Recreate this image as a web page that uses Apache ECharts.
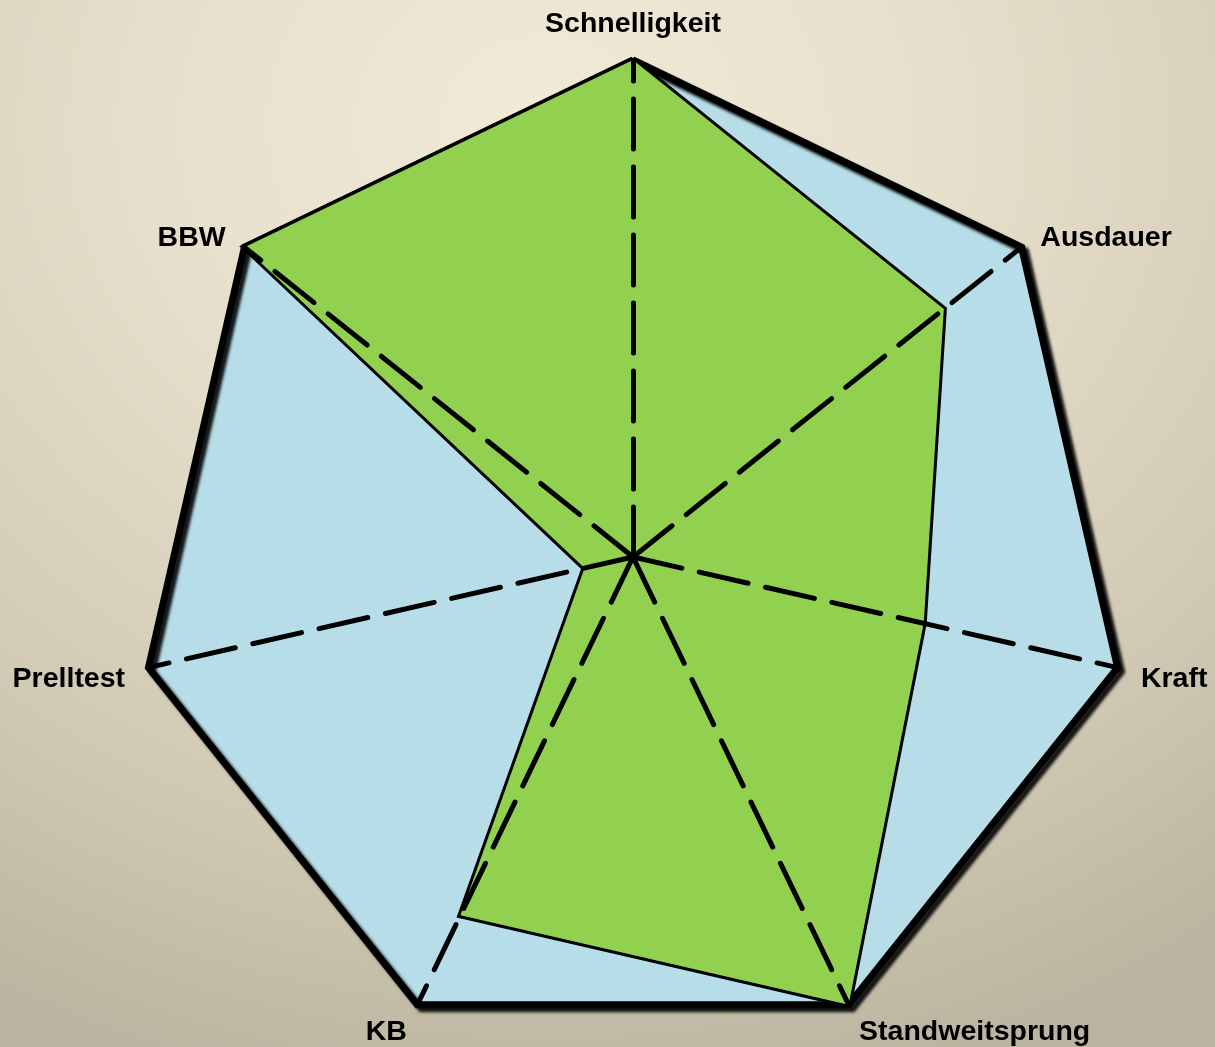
<!DOCTYPE html>
<html>
<head>
<meta charset="utf-8">
<script src="https://cdn.jsdelivr.net/npm/echarts@6/dist/echarts.min.js"></script>
<style>
  html, body { margin: 0; padding: 0; width: 100%; height: 100%; }
  body { background: radial-gradient(ellipse 95% 95% at 45% 12%, #f1ead6 0%, #e6dfcb 35%, #d3cbb6 70%, #bab5a0 100%); }
  #chart { width: 1215px; height: 1047px; }
</style>
</head>
<body>
<div id="chart"></div>
<script>
// Clockwise order starting at the top
const categories = ['Schnelligkeit', 'Ausdauer', 'Kraft', 'Standweitsprung', 'KB', 'Prelltest', 'BBW'];
const maxValues = [10, 10, 10, 10, 10, 10, 10];
const seriesValues = [10, 8, 6, 10, 8, 1, 10];

// ECharts lays radar indicators out counter-clockwise; reorder so they run clockwise
const order = [0].concat(categories.map((_, i) => i).slice(1).reverse());
const indicator = order.map(i => ({ name: categories[i], max: maxValues[i], min: 0 }));
const orderedValues = order.map(i => seriesValues[i]);

const baseRadar = {
  indicator: indicator,
  center: [633, 557],
  radius: 497,
  startAngle: 90,
  shape: 'polygon',
  splitNumber: 1,
  nameGap: 24,
  axisTick: { show: false },
  axisLabel: { show: false }
};

const nameFont = { color: '#000', fontWeight: 'bold', fontSize: 28.5, fontFamily: 'Liberation Sans, Arial, sans-serif' };

const chart = echarts.init(document.getElementById('chart'), null, { renderer: 'canvas' });
chart.setOption({
  backgroundColor: 'transparent',
  animation: false,
  radar: [
    Object.assign({}, baseRadar, {
      z: 0,
      axisName: { show: false },
      axisLine: { show: false },
      splitLine: {
        show: true,
        lineStyle: {
          color: '#000', width: 7, join: 'miter',
          shadowColor: 'rgba(0,0,0,0.9)', shadowBlur: 3, shadowOffsetX: 4, shadowOffsetY: 4
        }
      },
      splitArea: { show: true, areaStyle: { color: ['#b7dde8'] } }
    }),
    Object.assign({}, baseRadar, {
      z: 2,
      axisName: Object.assign({
        show: true,
        formatter: (name) => name === categories[0] ? '{u|' + name + '}' : '{s|}\n{t|' + name + '}',
        rich: {
          s: { height: 12, lineHeight: 12, fontSize: 10 },
          t: Object.assign({ lineHeight: 34 }, nameFont),
          u: Object.assign({ lineHeight: 24 }, nameFont)
        }
      }, nameFont),
      axisLine: { show: true, lineStyle: { color: '#000', width: 5, type: [50, 18] } },
      splitLine: { show: false },
      splitArea: { show: false }
    })
  ],
  series: [{
    type: 'radar',
    radarIndex: 0,
    z: 1,
    symbol: 'none',
    lineStyle: { color: '#000', width: 6, join: 'miter' },
    areaStyle: { color: '#92d050', opacity: 1 },
    data: [{ value: orderedValues, name: 'Werte' }]
  }]
});
</script>
</body>
</html>
